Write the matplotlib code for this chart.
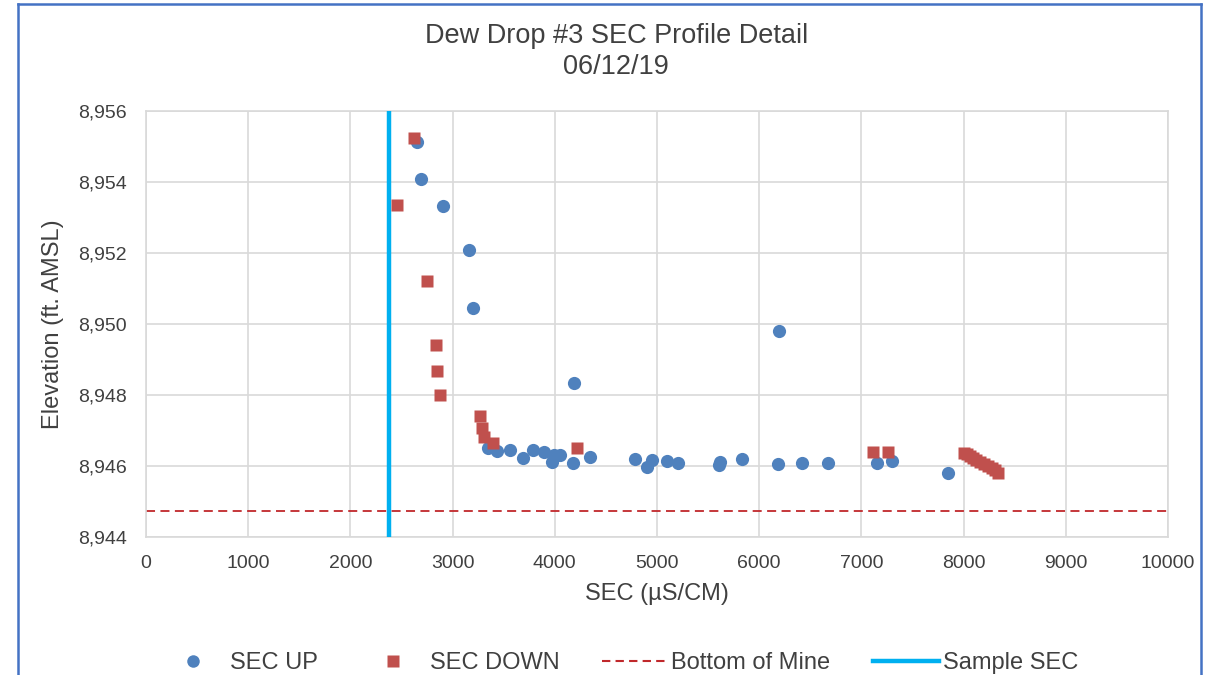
import numpy as np
import matplotlib.pyplot as plt
from matplotlib.lines import Line2D

plt.rcParams['font.family'] = ['Liberation Sans', 'DejaVu Sans']

# SEC UP readings (uS/cm, ft AMSL)
up_sec = [2650, 2690, 2910, 3160, 3195, 4190, 6190,
          3350, 3430, 3560, 3690, 3790, 3890, 3970, 3990, 4050, 4180,
          4345, 4780, 4900, 4950, 5095, 5210, 5610, 5615, 5830, 6180,
          6420, 6675, 7155, 7295, 7850]
up_elev = [8955.12, 8954.08, 8953.33, 8952.08, 8950.45, 8948.34, 8949.80,
           8946.50, 8946.42, 8946.45, 8946.22, 8946.45, 8946.40, 8946.12, 8946.31, 8946.31, 8946.08,
           8946.26, 8946.19, 8945.98, 8946.17, 8946.14, 8946.08, 8946.03, 8946.12, 8946.19, 8946.06,
           8946.08, 8946.08, 8946.08, 8946.14, 8945.79]

# SEC DOWN readings
down_sec = [2625, 2453, 2746, 2834, 2851, 2877, 3268, 3284, 3307, 3392, 4214,
            7117, 7257, 8000, 8030, 8060, 8090, 8120, 8160, 8200, 8240, 8280, 8310, 8340]
down_elev = [8955.24, 8953.34, 8951.21, 8949.42, 8948.68, 8947.99, 8947.41, 8947.06, 8946.83, 8946.64, 8946.52,
             8946.40, 8946.40, 8946.38, 8946.33, 8946.27, 8946.22, 8946.16, 8946.11, 8946.05, 8946.00, 8945.95, 8945.90, 8945.80]

bottom_of_mine = 8944.73
sample_sec = 2380

fig = plt.figure(figsize=(12.13, 6.75), dpi=100)
ax = fig.add_axes([146/1213, 1-537/675, (1168-146)/1213, (537-111)/675])

grid_c = '#d9d9d9'
txt_c = '#404040'
ax.axhline(bottom_of_mine, color='#c0282b', lw=1.3, ls=(0, (5, 3)), zorder=2)
ax.axvline(sample_sec, color='#00b0f0', lw=3.2, zorder=3)
ax.plot(up_sec, up_elev, 'o', color='#4f81bd', ms=9.5, mec='none', zorder=4)
ax.plot(down_sec, down_elev, 's', color='#c0504d', ms=9, mec='none', zorder=5)

ax.set_xlim(0, 10000)
ax.set_ylim(8944, 8956)
ax.set_xticks(np.arange(0, 10001, 1000))
ax.set_yticks(np.arange(8944, 8957, 2))
ax.set_yticklabels(['{:,}'.format(v) for v in range(8944, 8957, 2)])
ax.grid(True, color=grid_c, lw=1.2)
ax.set_axisbelow(True)
for s in ax.spines.values():
    s.set_color(grid_c)
    s.set_linewidth(1.2)
ax.tick_params(length=0, labelsize=14, labelcolor=txt_c)
ax.tick_params(axis='x', pad=13)
ax.tick_params(axis='y', pad=14)

ax.set_xlabel('SEC (µS/CM)', fontsize=17, color=txt_c, labelpad=8)
ax.set_ylabel('Elevation (ft. AMSL)', fontsize=17, color=txt_c, labelpad=10)
fig.text(0.508, 1-36/675, 'Dew Drop #3 SEC Profile Detail', ha='center', va='center',
         fontsize=19.5, color=txt_c)
fig.text(0.508, 1-67/675, '06/12/19', ha='center', va='center', fontsize=19.5, color=txt_c)

handles = [
    Line2D([], [], ls='none', marker='o', color='#4f81bd', ms=9, mec='none'),
    Line2D([], [], ls='none', marker='s', color='#c0504d', ms=9, mec='none'),
    Line2D([], [], color='#c0282b', lw=1.5, ls=(0, (4, 2.5))),
    Line2D([], [], color='#00b0f0', lw=3.2),
]
labels = ['SEC UP', 'SEC DOWN', 'Bottom of Mine', 'Sample SEC']
fig.legend(handles, labels, loc='center', bbox_to_anchor=(619/1213, 1-663/675), ncol=4,
           frameon=False, fontsize=17, labelcolor=txt_c, handlelength=2.8,
           handletextpad=0.15, columnspacing=1.8)

# blue chart-area border
for xs, ys in [([18/1213, 18/1213], [0, 1-4/675]), ([1201/1213, 1201/1213], [0, 1-4/675]),
               ([18/1213, 1201/1213], [1-4/675, 1-4/675])]:
    fig.add_artist(Line2D(xs, ys, color='#4472c4', lw=1.8, transform=fig.transFigure))

fig.savefig('out.png', dpi=100)
